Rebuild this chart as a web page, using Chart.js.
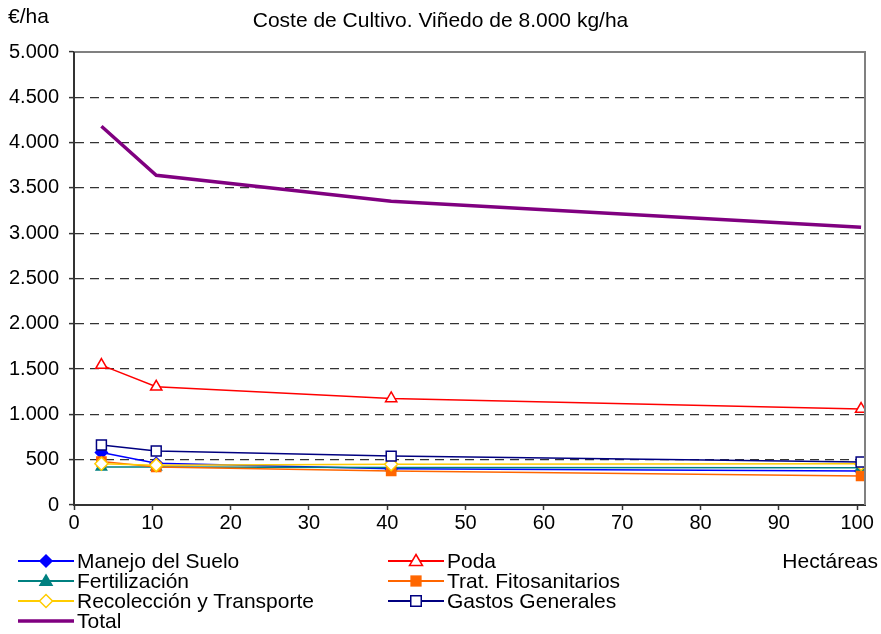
<!DOCTYPE html>
<html>
<head>
<meta charset="utf-8">
<script src="https://cdn.jsdelivr.net/npm/chart.js@4.4.0/dist/chart.umd.min.js"></script>
<style>
     body { margin: 0; background: #fff; }
     #wrap { position: relative; width: 881px; height: 634px; font-family: "Liberation Sans", Arial, sans-serif; color: #000; }
     #wrap canvas { position: absolute; left: 0; top: 0; }
     .txt { position: absolute; font-size: 21px; white-space: nowrap; line-height: 20px; }
     .lg { position: absolute; height: 20px; font-size: 21px; line-height: 20px; white-space: nowrap; }
     .lg svg { position: absolute; left: 0; top: 0; }
     .lg span { position: absolute; top: 0; }
</style>
</head>
<body>
<div id="wrap">
     <canvas id="costChart" width="881" height="634"></canvas>
     <div class="txt" id="title" style="left:0; width:881px; text-align:center; top:10px;">Coste de Cultivo. Viñedo de 8.000 kg/ha</div>
     <div class="txt" style="left:8px; top:6px;">€/ha</div>
     <div class="txt" style="right:3px; top:551px;">Hectáreas</div>
     <div id="legend"></div>
</div>
<script>
     // hectares (x) and cost per hectare (y) for each cost item
     var hectareas = [3.5, 10.5, 40.5, 100.5];

     var manejoSuelo     = [580, 460, 400, 375];
     var poda            = [1544, 1305, 1176, 1059];
     var fertilizacion   = [420, 420, 415, 412];
     var tratFito        = [480, 420, 375, 320];
     var recoleccion     = [455, 440, 450, 455];
     var gastosGenerales = [662, 596, 540, 474];
     var total           = [4180, 3640, 3353, 3066];

     var seriesNames = ["Manejo del Suelo", "Poda", "Fertilización", "Trat. Fitosanitarios",
                        "Recolección y Transporte", "Gastos Generales", "Total"];

     var xTicks = [0, 10, 20, 30, 40, 50, 60, 70, 80, 90, 100];
     var yTicks = [0, 500, 1000, 1500, 2000, 2500, 3000, 3500, 4000, 4500, 5000];

     function toPoints(values) {
          return values.map(function(v, i){ return {x: hectareas[i], y: v}; });
     }

     function fmtMiles(v) {
          return String(v).replace(/\B(?=(\d{3})+(?!\d))/g, '.');
     }

     // style of every series: colour, marker, marker fill
     var styles = [
          {color: '#0000FF', point: 'rectRot',  fill: '#0000FF', radius: 6,   width: 1.5},
          {color: '#FF0000', point: 'triangle', fill: '#FFFFFF', radius: 6.5, width: 1.5},
          {color: '#008080', point: 'triangle', fill: '#008080', radius: 6,   width: 1.5},
          {color: '#FF6600', point: 'rect',     fill: '#FF6600', radius: 6.5, width: 1.5},
          {color: '#FFCC00', point: 'rectRot',  fill: '#FFFFFF', radius: 6.5, width: 1.5},
          {color: '#000080', point: 'rect',     fill: '#FFFFFF', radius: 7,   width: 1.5},
          {color: '#800080', point: false,      fill: '#800080', radius: 0,   width: 3.5}
     ];

     var allValues = [manejoSuelo, poda, fertilizacion, tratFito, recoleccion, gastosGenerales, total];

     var datasets = allValues.map(function(vals, i){
          var s = styles[i];
          return {
               label: seriesNames[i],
               data: toPoints(vals),
               borderColor: s.color,
               borderWidth: s.width,
               pointStyle: s.point,
               pointRadius: s.radius,
               pointBackgroundColor: s.fill,
               pointBorderColor: s.color,
               pointBorderWidth: 1.5,
               tension: 0,
               fill: false,
               order: allValues.length - i
          };
     });

     // grey frame on top and right, solid left axis line
     var framePlugin = {
          id: 'frame',
          afterDraw: function(chart){
               var a = chart.chartArea, c = chart.ctx;
               c.save();
               c.strokeStyle = '#808080';
               c.lineWidth = 2;
               c.beginPath();
               c.moveTo(a.left, a.top);
               c.lineTo(a.right, a.top);
               c.lineTo(a.right, a.bottom);
               c.stroke();
               c.strokeStyle = '#333';
               c.beginPath();
               c.moveTo(a.left, a.top);
               c.lineTo(a.left, a.bottom);
               c.stroke();
               c.restore();
          }
     };

     const ctx = document.getElementById('costChart').getContext('2d');

     new Chart(ctx, {
          type: 'line',
          data: { datasets: datasets },
          options: {
               responsive: false,
               animation: false,
               layout: { padding: { left: 0, top: 52, right: 16, bottom: 0 } },
               plugins: { legend: false, tooltip: { enabled: false } },
               scales: {
                    x: {
                         type: 'linear',
                         min: 0,
                         max: 101,
                         afterBuildTicks: function(scale){
                              scale.ticks = xTicks.map(function(v){ return {value: v}; });
                         },
                         afterFit: function(scale){ scale.height = 129; },
                         border: { color: '#333', width: 2 },
                         grid: { drawOnChartArea: false, drawTicks: true, tickLength: 5, tickColor: '#333', tickWidth: 1.5 },
                         ticks: { color: '#000', font: { family: 'Liberation Sans', size: 20 }, padding: 1, maxRotation: 0 }
                    },
                    y: {
                         min: 0,
                         max: 5000,
                         afterBuildTicks: function(scale){
                              scale.ticks = yTicks.map(function(v){ return {value: v}; });
                         },
                         afterFit: function(scale){ scale.width = 74; },
                         border: { color: '#333', width: 2, dash: [9, 6] },
                         grid: {
                              color: function(c){ return (c.tick && (c.tick.value === 0 || c.tick.value === 5000)) ? 'rgba(0,0,0,0)' : '#333'; },
                              lineWidth: 1.2,
                              tickBorderDash: [],
                              tickColor: '#333',
                              tickLength: 5,
                              tickWidth: 1.5
                         },
                         ticks: {
                              color: '#000',
                              font: { family: 'Liberation Sans', size: 20 },
                              padding: 10,
                              callback: function(v){ return fmtMiles(v); }
                         }
                    }
               }
          },
          plugins: [framePlugin]
     });

     // legend in two columns, under the plot
     var legendPos = [
          {x: 18,  y: 551}, {x: 388, y: 551},
          {x: 18,  y: 571}, {x: 388, y: 571},
          {x: 18,  y: 591}, {x: 388, y: 591},
          {x: 18,  y: 611}
     ];

     function markerSvg(s) {
          var cx = 28, cy = 10, r = s.radius, m = '';
          if (s.point === 'rect') {
               m = '<rect x="' + (cx - r * 0.75) + '" y="' + (cy - r * 0.75) + '" width="' + (r * 1.5) + '" height="' + (r * 1.5) + '" fill="' + s.fill + '" stroke="' + s.color + '" stroke-width="1.5"/>';
          } else if (s.point === 'rectRot') {
               m = '<polygon points="' + cx + ',' + (cy - r) + ' ' + (cx + r) + ',' + cy + ' ' + cx + ',' + (cy + r) + ' ' + (cx - r) + ',' + cy + '" fill="' + s.fill + '" stroke="' + s.color + '" stroke-width="1.5"/>';
          } else if (s.point === 'triangle') {
               m = '<polygon points="' + cx + ',' + (cy - r) + ' ' + (cx + r) + ',' + (cy + r * 0.7) + ' ' + (cx - r) + ',' + (cy + r * 0.7) + '" fill="' + s.fill + '" stroke="' + s.color + '" stroke-width="1.5"/>';
          }
          var lw = Math.max(s.width, 2);
          return '<svg width="58" height="20"><line x1="0" y1="10" x2="56" y2="10" stroke="' + s.color + '" stroke-width="' + lw + '"/>' + m + '</svg>';
     }

     var legendHtml = '';
     seriesNames.forEach(function(name, i){
          var p = legendPos[i];
          legendHtml += '<div class="lg" style="left:' + p.x + 'px; top:' + p.y + 'px; width:330px;">' +
               markerSvg(styles[i]) + '<span style="left:59px;">' + name + '</span></div>';
     });
     document.getElementById('legend').innerHTML = legendHtml;
</script>
</body>
</html>
